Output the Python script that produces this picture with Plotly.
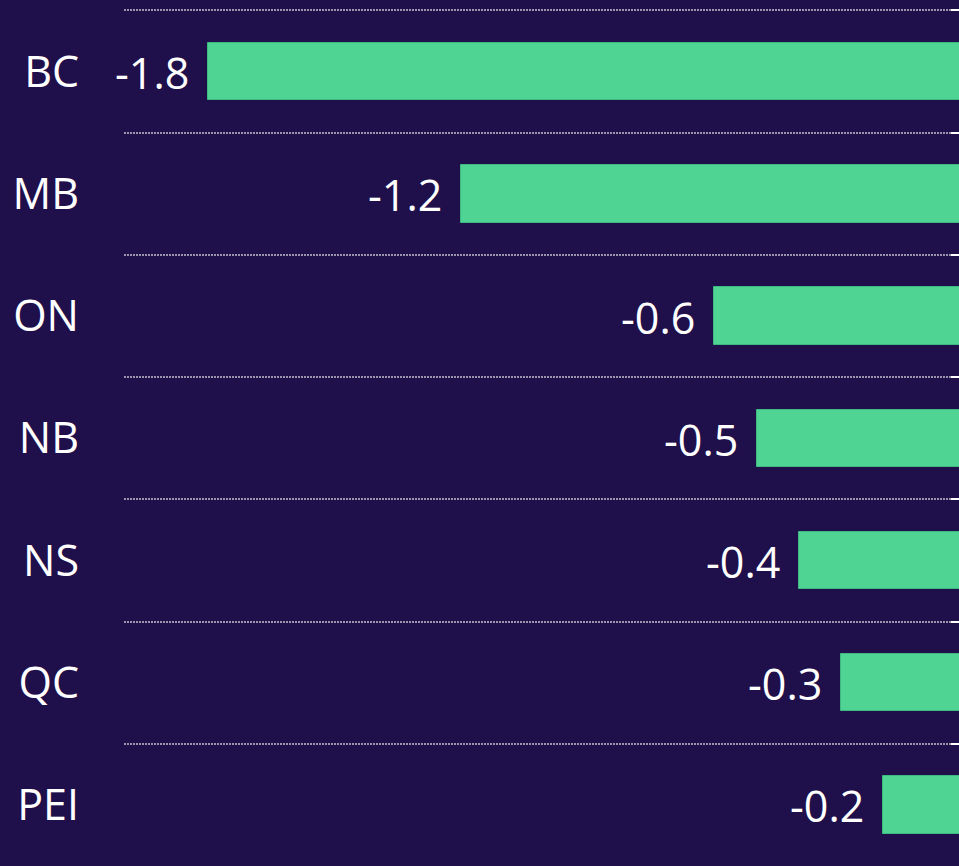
import plotly.graph_objects as go

categories = ["BC", "MB", "ON", "NB", "NS", "QC", "PEI"]
values = [-1.8, -1.2, -0.6, -0.5, -0.4, -0.3, -0.2]

BG = "#1f0f4b"
BAR = "#4fd494"
FONT = "Open Sans"

pos = list(range(len(categories)))
bounds = [i - 0.5 for i in range(len(categories) + 1)]
yrange = [len(categories) - 0.5, -0.52]

fig = go.Figure()
fig.add_trace(go.Bar(
    x=values, y=pos, orientation="h", width=0.47,
    marker=dict(color=BAR, line=dict(color="#3fb982", width=1)),
    hoverinfo="skip", showlegend=False,
))
# invisible trace to anchor the right-hand axis (grid + ticks)
fig.add_trace(go.Scatter(x=[values[0]], y=[0], yaxis="y2", mode="markers",
                         marker=dict(opacity=0), hoverinfo="skip", showlegend=False))

for i, v in enumerate(values):
    fig.add_annotation(x=v, y=i, text=f"{v:.1f}", showarrow=False,
                       xanchor="right", yanchor="middle", xshift=-17, yshift=-1,
                       font=dict(family=FONT, size=43, color="white"))

fig.update_layout(
    width=959, height=866,
    margin=dict(l=124, r=0, t=8, b=0),
    paper_bgcolor=BG, plot_bgcolor=BG,
    bargap=0,
    xaxis=dict(range=[-2.0, -0.02], showgrid=False, zeroline=False,
               showticklabels=False, showline=False, ticks=""),
    yaxis=dict(range=yrange, tickvals=pos, ticktext=categories, showgrid=False,
               zeroline=False, showline=False, ticks="", ticklabelstandoff=44,
               tickfont=dict(family=FONT, size=43, color="white")),
    yaxis2=dict(range=yrange, overlaying="y", side="right", tickvals=bounds,
                showticklabels=False, ticks="inside", ticklen=8, tickwidth=2,
                tickcolor="white", showgrid=True, gridcolor="#9a95ad",
                griddash="1.5px,1.5px", gridwidth=1.5, zeroline=False, showline=False),
)

fig.write_html("out.html", config={"displayModeBar": False},
               post_script="document.body.style.margin='0';document.body.style.background='%s';" % BG)
